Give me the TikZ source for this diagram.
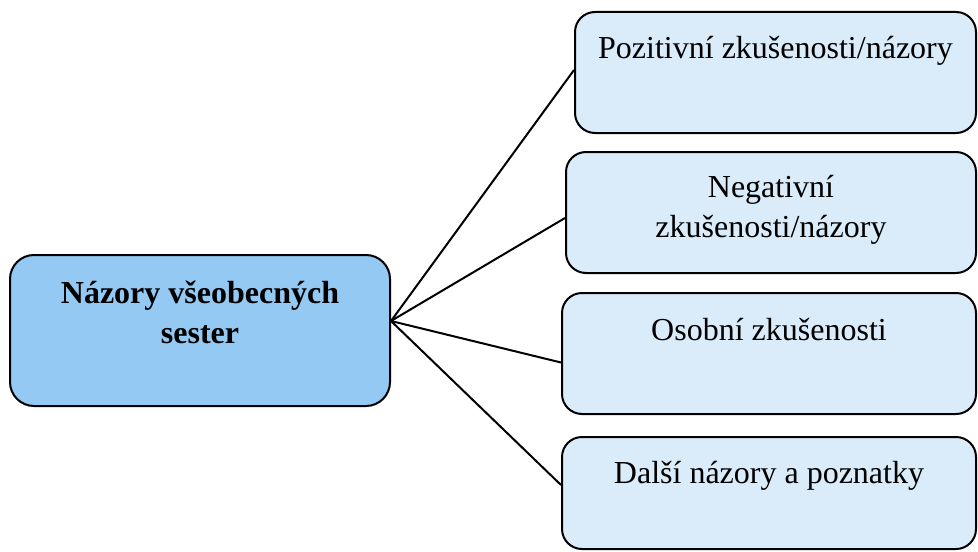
\documentclass[tikz,border=0pt]{standalone}
\usepackage{fontspec}
\setmainfont{Liberation Serif}
\definecolor{hubblue}{HTML}{93C9F3}
\definecolor{leafblue}{HTML}{DAEBF9}
\begin{document}
\begin{tikzpicture}[x=0.5pt,y=-0.5pt,
  hubbox/.style={draw=black,line width=1pt,fill=hubblue,rounded corners=12pt,
    minimum width=190pt,minimum height=75.5pt,inner sep=0pt},
  leafbox/.style={draw=black,line width=1pt,fill=leafblue,rounded corners=10pt,
    minimum height=60.5pt,inner sep=0pt},
  boxtext/.style={anchor=base,align=center,inner sep=0pt,
    font=\fontsize{16}{20}\selectfont},
  link/.style={draw=black,line width=1pt}]
\useasboundingbox (0,0) rectangle (978,551);

% the boxes
\node[hubbox] (main) at (200,330.5) {};
\node[leafbox,minimum width=200.5pt] (pos) at (775.5,72.5) {};
\node[leafbox,minimum width=205pt] (neg) at (771,212.5) {};
\node[leafbox,minimum width=207pt] (own) at (769,353.5) {};
\node[leafbox,minimum width=207pt,minimum height=56pt] (more) at (769,493) {};

% the texts (base of a two-line node is its last line)
\node[boxtext,font=\fontsize{16}{20}\selectfont\bfseries] (tmain) at ([yshift=-44.5pt]main.north) {Názory všeobecných\\sester};
\node[boxtext] (tpos) at ([yshift=-24pt]pos.north) {Pozitivní zkušenosti/názory};
\node[boxtext] (tneg) at ([yshift=-43pt]neg.north) {Negativní\\zkušenosti/názory};
\node[boxtext] (town) at ([yshift=-24pt]own.north) {Osobní zkušenosti};
\node[boxtext] (tmore) at ([yshift=-23.5pt]more.north) {Další názory a poznatky};

% the connectors
\coordinate (hub) at ([yshift=4.75pt]main.east);
\draw[link] (hub) -- ([yshift=1.25pt]pos.west);
\draw[link] (hub) -- ([yshift=-2.75pt]neg.west);
\draw[link] (hub) -- ([yshift=-4.5pt]own.west);
\draw[link] (hub) -- ([yshift=4pt]more.west);
\end{tikzpicture}
\end{document}
